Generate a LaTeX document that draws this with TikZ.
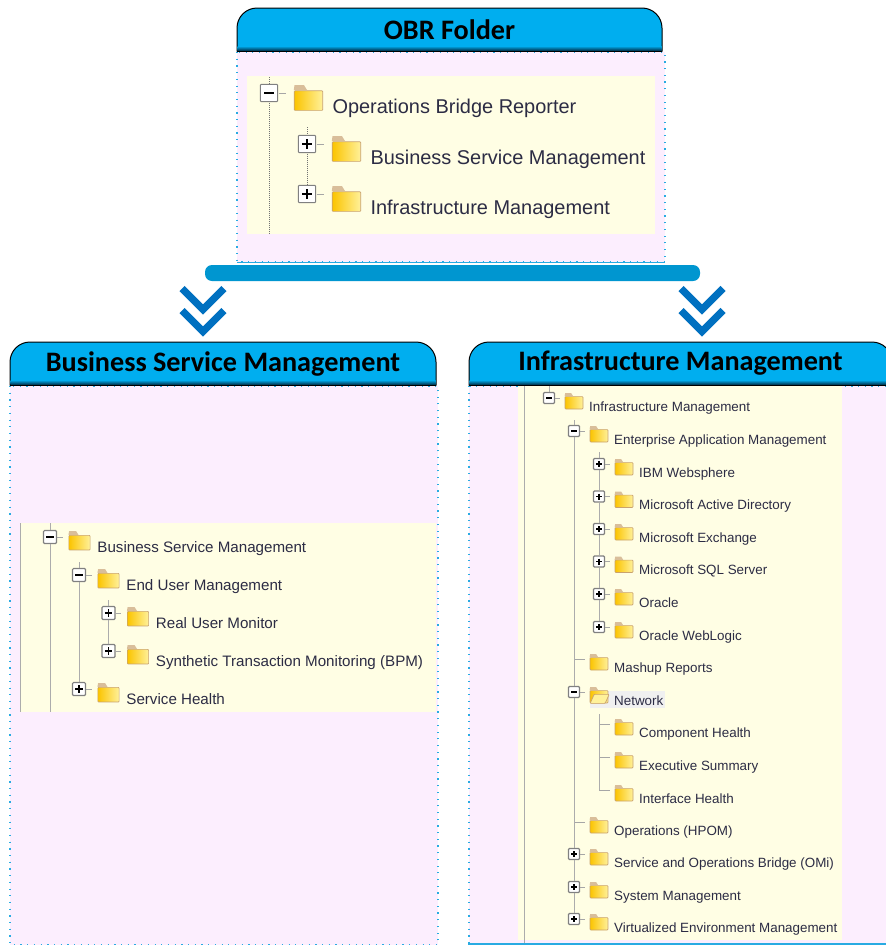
\documentclass[tikz,border=0pt]{standalone}
\usepackage{fontspec}
\setmainfont{Liberation Sans}
\newfontfamily\headfont{Carlito}[Scale=1.0]
\usetikzlibrary{calc,positioning}

\definecolor{tabcyan}{HTML}{00AEEF}
\definecolor{tabdark}{HTML}{00354F}
\definecolor{barblue}{HTML}{0096D0}
\definecolor{arrowblue}{HTML}{0070C0}
\definecolor{panelpink}{HTML}{FCEEFE}
\definecolor{treeyellow}{HTML}{FFFEE4}
\definecolor{edgeblue}{HTML}{29ABE2}
\definecolor{foldertan}{HTML}{C9A26E}
\definecolor{foldergold}{HTML}{FBC400}
\definecolor{folderpale}{HTML}{FFF19A}
\definecolor{treetext}{HTML}{2C2C44}
\definecolor{boxgray}{HTML}{808080}

\newcommand{\treerow}[6]{
    \begin{scope}[shift={(#3,#4)},scale=#2,transform shape]
        \node[#5] (#1box) at (0,0) {};
        \node[folder] (#1dir) at (25,4.8) {};
        \fill[foldertan!70!white] (#1dir.north west) -- ++(0.5,-3.2) -- ++(6,0) -- ++(2,3.2) -- cycle;
        \node[rowtext] (#1txt) at (40,13) {#6};
        \draw[tick] (#1box) -- ($(#1box)+(11,0)$);
    \end{scope}
}
\newcommand{\headertab}[6]{
    \filldraw[draw=black,fill=tabcyan,line width=1pt]
        (#2,#5) -- (#2,#3+20) arc[start angle=180,end angle=270,radius=20]
        -- (#4-20,#3) arc[start angle=270,end angle=360,radius=20] -- (#4,#5) -- cycle;
    \shade[top color=tabcyan,bottom color=tabdark] (#2+0.5,#5-5) rectangle (#4-0.5,#5-0.5);
    \draw[black,line width=1pt] (#2,#5) -- (#4,#5);
    \node[headtext] (#1) at ({(#2+#4)/2},{(#3+#5)/2}) {#6};
}

\begin{document}
\begin{tikzpicture}[
    x=1pt,y=-1pt,
    panel/.style={draw=edgeblue,fill=panelpink,line width=1.2pt,
                  dash pattern=on 1.2pt off 5.5pt},
    tree/.style={fill=treeyellow},
    headtext/.style={font=\headfont\bfseries\fontsize{28.2}{32}\selectfont,text=black,inner sep=0},
    rowtext/.style={font=\fontsize{13.4}{16}\selectfont,text=treetext,anchor=base west,inner sep=0},
    folder/.style={rectangle,draw=foldertan,line width=0.7pt,rounded corners=0.8pt,
                   minimum width=18pt,minimum height=12.4pt,inner sep=0,
                   shade,shading angle=225,left color=foldergold,right color=folderpale},
    treebox/.style={rectangle,draw=boxgray,fill=white,line width=1.1pt,rounded corners=1pt,
                    minimum size=11pt,inner sep=0},
    treeplus/.style={treebox,path picture={
        \draw[black,line width=1.2pt] (-3,0) -- (3,0) (0,-3) -- (0,3);}},
    treeminus/.style={treebox,path picture={
        \draw[black,line width=1.2pt] (-3,0) -- (3,0);}},
    treenone/.style={inner sep=0,minimum size=0},
    tick/.style={draw=boxgray!70,line width=0.6pt},
    guide/.style={draw=boxgray!65,line width=1pt},
    guidedot/.style={draw=boxgray!90!black,line width=1pt,dash pattern=on 1pt off 1pt},
    chevron/.style={draw=arrowblue,line width=7.4pt,miter limit=4},
    bar/.style={fill=barblue,rounded corners=7pt}
]

    \useasboundingbox (0,0) rectangle (886,945);
    \fill[white] (0,0) rectangle (886,945);

    % panels
    \filldraw[panel] (237,52) rectangle (665,262);
    \filldraw[panel] (10,386) rectangle (438,945);
    \filldraw[panel] (469,386) rectangle (890,944);
    \fill[tree] (247,76) rectangle (655,234);
    \fill[tree] (20,523) rectangle (436,712);
    \fill[tree] (518,386) rectangle (842,940);
    \draw[edgeblue,line width=1pt] (237,262.5) -- (665,262.5);
    \draw[edgeblue,line width=1.5pt] (468,944) -- (886,944);

    \headertab{obrhead}{237}{8}{662}{51}{OBR Folder}
    \headertab{bsmhead}{10}{342}{436}{385}{Business Service Management}
    \headertab{imhead}{469}{342}{892}{385}{Infrastructure Management}

    % bar and double arrows
    \fill[bar] (205,265) rectangle (700,281);
    \foreach \ax in {203,702}
        \foreach \ay in {309.5,331.5}
            \draw[chevron] (\ax-21,\ay-21) -- (\ax,\ay) -- (\ax+21,\ay-21);

    % OBR tree
    \begin{scope}[rowtext/.append style={scale=0.942}]
    \treerow{root}{1.58}{269}{93}{treeminus}{Operations Bridge Reporter}
    \treerow{obrbsm}{1.58}{307}{144}{treeplus}{Business Service Management}
    \treerow{obrim}{1.58}{307}{194}{treeplus}{Infrastructure Management}
    \end{scope}
    \coordinate (rootT) at (269,77);
    \coordinate (rootB) at (269,234);
    \coordinate (obrT) at (307,127);
    \draw[guidedot] (rootT) -- (rootbox);
    \draw[guidedot] (rootbox) -- (rootB);
    \draw[guidedot] (obrT) -- (obrbsmbox);
    \draw[guidedot] (obrbsmbox) -- (obrimbox);

    % Business Service Management tree
    \begin{scope}[rowtext/.append style={scale=0.958}]
    \treerow{bsm}{1.18}{50}{537}{treeminus}{Business Service Management}
    \treerow{eum}{1.18}{79}{575}{treeminus}{End User Management}
    \treerow{rum}{1.18}{108.5}{613}{treeplus}{Real User Monitor}
    \treerow{stm}{1.18}{108.5}{651}{treeplus}{Synthetic Transaction Monitoring (BPM)}
    \treerow{shl}{1.18}{79}{689}{treeplus}{Service Health}
    \end{scope}
    \coordinate (bsmEdgeT) at (20.5,523);
    \coordinate (bsmEdgeB) at (20.5,712);
    \coordinate (bsmT) at (50,523);
    \coordinate (bsmB) at (50,712);
    \coordinate (eumT) at (79,562);
    \coordinate (rumT) at (108.5,600);
    \draw[guide] (bsmEdgeT) -- (bsmEdgeB);
    \draw[guide] (bsmT) -- (bsmbox);
    \draw[guide] (bsmbox) -- (bsmB);
    \draw[guide] (eumT) -- (eumbox);
    \draw[guide] (eumbox) -- (shlbox);
    \draw[guide] (rumT) -- (rumbox);
    \draw[guide] (rumbox) -- (stmbox);

    % Infrastructure Management tree
    \fill[black!6] (590,691) rectangle (665,708);
    \treerow{im}{1}{549}{398}{treeminus}{Infrastructure Management}
    \treerow{eam}{1}{574}{431}{treeminus}{Enterprise Application Management}
    \treerow{ibm}{1}{599}{464}{treeplus}{IBM Websphere}
    \treerow{mad}{1}{599}{496.5}{treeplus}{Microsoft Active Directory}
    \treerow{mex}{1}{599}{529}{treeplus}{Microsoft Exchange}
    \treerow{sql}{1}{599}{561.5}{treeplus}{Microsoft SQL Server}
    \treerow{ora}{1}{599}{594}{treeplus}{Oracle}
    \treerow{owl}{1}{599}{627}{treeplus}{Oracle WebLogic}
    \treerow{msh}{1}{574}{659}{treenone}{Mashup Reports}
    \treerow{net}{1}{574}{692}{treeminus}{Network}
    \treerow{cph}{1}{599}{724}{treenone}{Component Health}
    \treerow{exs}{1}{599}{757}{treenone}{Executive Summary}
    \treerow{ifh}{1}{599}{790}{treenone}{Interface Health}
    \treerow{opn}{1}{574}{822}{treenone}{Operations (HPOM)}
    \treerow{omi}{1}{574}{854}{treeplus}{Service and Operations Bridge (OMi)}
    \treerow{sys}{1}{574}{887}{treeplus}{System Management}
    \treerow{vir}{1}{574}{919}{treeplus}{Virtualized Environment Management}
    \fill[folderpale,draw=foldertan,line width=0.7pt,rounded corners=0.8pt]
        ([xshift=0.5pt]netdir.south west) -- ++(4,-9) -- ++(15,0) -- ++(-4,9) -- cycle;
    \coordinate (imEdgeT) at (524,386);
    \coordinate (imEdgeB) at (524,943);
    \coordinate (imT) at (549,386);
    \coordinate (eamT) at (574,420);
    \coordinate (ibmT) at (599,452);
    \coordinate (cphT) at (599,714);
    \draw[guide] (imEdgeT) -- (imEdgeB);
    \draw[guide] (imT) -- (imbox);
    \foreach \upper/\lower in {eamT/eambox,eambox/mshbox,mshbox/netbox,netbox/opnbox,opnbox/omibox,
                               omibox/sysbox,sysbox/virbox,ibmT/ibmbox,ibmbox/madbox,madbox/mexbox,
                               mexbox/sqlbox,sqlbox/orabox,orabox/owlbox,cphT/cphbox,cphbox/exsbox,
                               exsbox/ifhbox}
        \draw[guide] (\upper) -- (\lower);

\end{tikzpicture}
\end{document}
